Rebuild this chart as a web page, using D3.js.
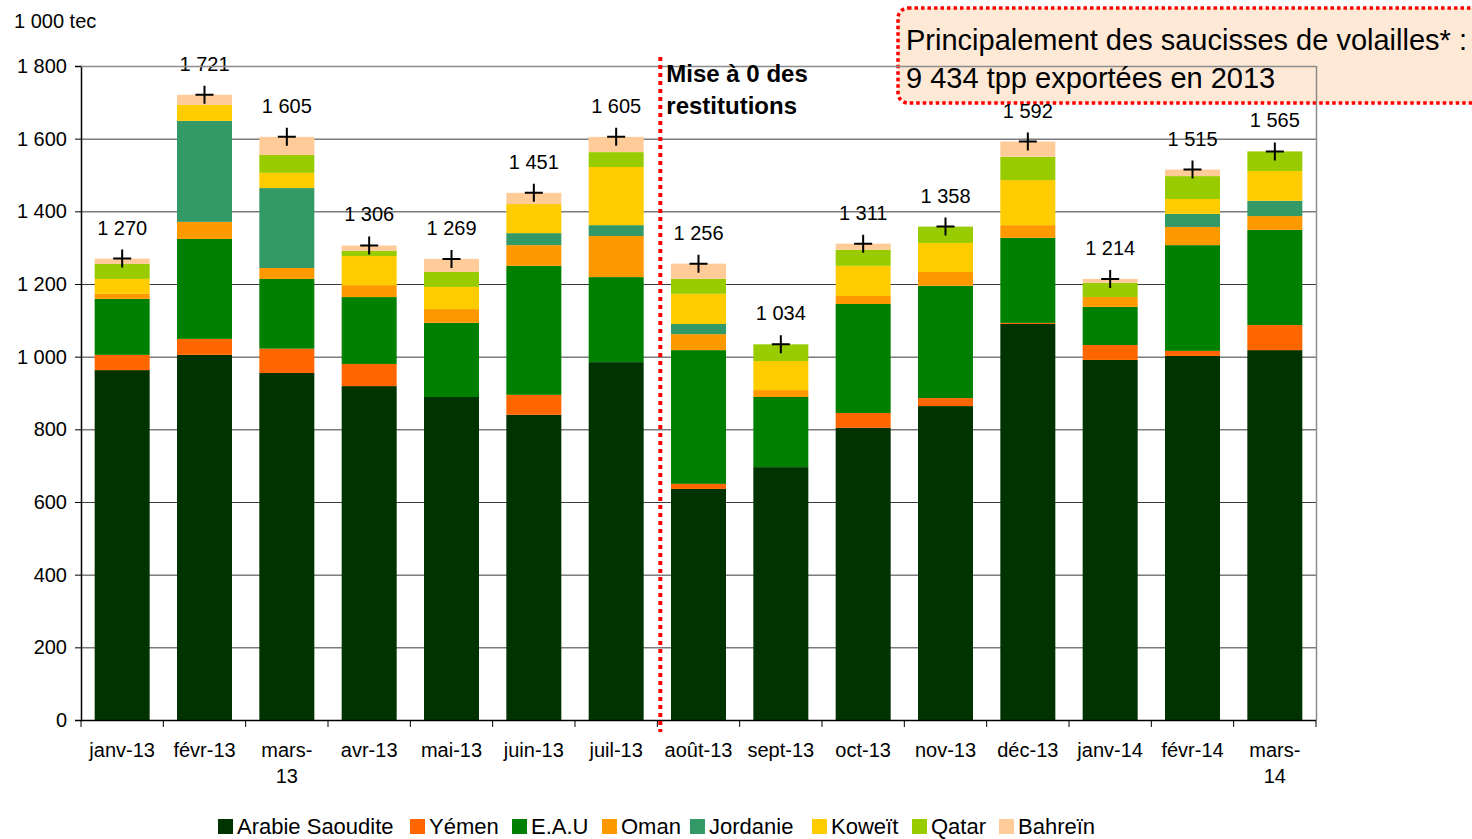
<!DOCTYPE html>
<html>
<head>
<meta charset="utf-8">
<script src="https://cdn.jsdelivr.net/npm/d3@7"></script>
<style>
  html, body { margin: 0; padding: 0; background: #fff; }
  svg { display: block; font-family: "Liberation Sans", Arial, sans-serif; }
</style>
</head>
<body>
<svg id="chart" width="1472" height="839"></svg>
<script>
// months, in tonnes (1 000 tec)
const months = ['janv-13', 'févr-13', 'mars-13', 'avr-13', 'mai-13', 'juin-13', 'juil-13',
  'août-13', 'sept-13', 'oct-13', 'nov-13', 'déc-13', 'janv-14', 'févr-14', 'mars-14'];
const monthLabels = ['janv-13', 'févr-13', 'mars-|13', 'avr-13', 'mai-13', 'juin-13', 'juil-13',
  'août-13', 'sept-13', 'oct-13', 'nov-13', 'déc-13', 'janv-14', 'févr-14', 'mars-|14'];

const countries = ['Arabie Saoudite', 'Yémen', 'E.A.U', 'Oman', 'Jordanie', 'Koweït', 'Qatar', 'Bahreïn'];
const colors = ['#003300', '#ff6600', '#008000', '#ff9900', '#339966', '#ffcc00', '#99cc00', '#ffcc99'];

const arabie   = [963, 1005, 955, 919, 889, 840, 985, 636, 696, 804, 864, 1090, 991, 1002, 1018];
const yemen    = [42, 44, 67, 61, 0, 55, 0, 14, 0, 41, 22, 3, 41, 14, 69];
const eau      = [154, 275, 192, 184, 204, 355, 234, 368, 193, 300, 309, 234, 105, 291, 262];
const oman     = [14, 47, 30, 33, 38, 57, 113, 44, 19, 22, 38, 35, 27, 50, 38];
const jordanie = [0, 278, 220, 0, 0, 33, 30, 28, 0, 0, 0, 0, 0, 36, 42];
const koweit   = [41, 44, 42, 80, 61, 80, 160, 83, 80, 83, 80, 124, 0, 41, 82];
const qatar    = [41, 0, 49, 14, 41, 0, 41, 41, 46, 44, 45, 64, 39, 63, 54];
const bahrein  = [15, 28, 50, 15, 36, 31, 42, 42, 0, 17, 0, 42, 11, 18, 0];

const yTicks = [0, 200, 400, 600, 800, 1000, 1200, 1400, 1600, 1800];

const series = [arabie, yemen, eau, oman, jordanie, koweit, qatar, bahrein];

// build rows for d3.stack
const rows = months.map((m, i) => {
  let r = {month: m};
  countries.forEach((c, k) => { r[c] = series[k][i]; });
  return r;
});
const totals = months.map((m, i) => d3.sum(series, s => s[i]));

const fr = d3.formatLocale({decimal: ',', thousands: '\u00a0', grouping: [3], currency: ['', ' €']});
const fmt = fr.format(',d');

const svg = d3.select('#chart');
const plotLeft = 81, plotRight = 1316, plotTop = 66, plotBottom = 720;

const x = d3.scaleBand().domain(months).range([plotLeft, plotRight]).paddingInner(0.332).paddingOuter(0.166);
const y = d3.scaleLinear().domain([0, 1800]).range([plotBottom, plotTop]);

// annotation box (behind the plot frame)
svg.append('rect')
  .attr('x', 898).attr('y', 8).attr('width', 600).attr('height', 95)
  .attr('rx', 10).attr('ry', 10)
  .attr('fill', '#fde9d6')
  .attr('stroke', '#ff0000').attr('stroke-width', 3.5).attr('stroke-dasharray', '3.5,3');

// gridlines
svg.append('g').selectAll('line').data(yTicks.filter(d => d > 0)).join('line')
  .attr('x1', plotLeft).attr('x2', plotRight)
  .attr('y1', d => y(d) + 0.5).attr('y2', d => y(d) + 0.5)
  .attr('stroke', '#3a3a3a').attr('stroke-width', 1);

// right frame
svg.append('line')
  .attr('x1', plotRight + 0.5).attr('x2', plotRight + 0.5).attr('y1', plotTop).attr('y2', plotBottom)
  .attr('stroke', '#8c8c8c').attr('stroke-width', 1.5);

// stacked bars
const stack = d3.stack().keys(countries)(rows);
svg.append('g').selectAll('g').data(stack).join('g')
  .attr('fill', (d, i) => colors[i])
  .selectAll('rect').data(d => d).join('rect')
    .attr('x', d => x(d.data.month))
    .attr('width', x.bandwidth())
    .attr('y', d => y(d[1]))
    .attr('height', d => y(d[0]) - y(d[1]));

// y axis
const yAxis = svg.append('g')
  .attr('transform', `translate(${plotLeft},0)`)
  .call(d3.axisLeft(y).tickValues(yTicks).tickSize(6).tickPadding(8).tickFormat(fmt));
yAxis.select('.domain').attr('stroke', '#000').attr('stroke-width', 1.5);
yAxis.selectAll('.tick line').attr('stroke', '#000');
yAxis.selectAll('text').attr('font-size', 20).attr('fill', '#000')
  .attr('font-family', '"Liberation Sans", Arial, sans-serif');

// x axis: ticks between categories
const xa = svg.append('g');
xa.append('line').attr('x1', plotLeft).attr('x2', plotRight).attr('y1', plotBottom + 0.5).attr('y2', plotBottom + 0.5)
  .attr('stroke', '#000').attr('stroke-width', 1.5);
xa.selectAll('line.tk').data(d3.range(months.length + 1)).join('line').attr('class', 'tk')
  .attr('x1', i => plotLeft + i * x.step()).attr('x2', i => plotLeft + i * x.step())
  .attr('y1', plotBottom).attr('y2', plotBottom + 7)
  .attr('stroke', '#000').attr('stroke-width', 1);
xa.selectAll('text').data(months).join('text')
  .attr('x', d => x(d) + x.bandwidth() / 2)
  .attr('y', plotBottom + 37)
  .attr('text-anchor', 'middle')
  .attr('font-size', 20)
  .each(function (d, i) {
    const parts = monthLabels[i].split('|');
    d3.select(this).selectAll('tspan').data(parts).join('tspan')
      .attr('x', x(d) + x.bandwidth() / 2)
      .attr('dy', (p, k) => k === 0 ? 0 : 26)
      .text(p => p);
  });

// totals: cross + label
const tg = svg.append('g');
tg.selectAll('path').data(months).join('path')
  .attr('d', (d, i) => {
    const cx = x(d) + x.bandwidth() / 2, cy = y(totals[i]);
    return `M${cx - 9},${cy}H${cx + 9}M${cx},${cy - 9}V${cy + 9}`;
  })
  .attr('stroke', '#000').attr('stroke-width', 2).attr('fill', 'none');
tg.selectAll('text').data(months).join('text')
  .attr('x', d => x(d) + x.bandwidth() / 2)
  .attr('y', (d, i) => y(totals[i]) - 24)
  .attr('text-anchor', 'middle')
  .attr('font-size', 20)
  .text((d, i) => fmt(totals[i]));

// top frame line over the annotation box
svg.append('line')
  .attr('x1', plotLeft).attr('x2', plotRight).attr('y1', plotTop + 0.5).attr('y2', plotTop + 0.5)
  .attr('stroke', '#8c8c8c').attr('stroke-width', 1.5);

// annotation text
const ann = svg.append('text').attr('font-size', 29).attr('fill', '#000');
ann.append('tspan').attr('x', 906).attr('y', 50).text('Principalement des saucisses de volailles* :');
ann.append('tspan').attr('x', 906).attr('y', 88).text('9 434 tpp exportées en 2013');

// red dotted separator between juil-13 and août-13
const sepX = plotLeft + 7 * x.step() + 3;
svg.append('line')
  .attr('x1', sepX).attr('x2', sepX).attr('y1', 57).attr('y2', 732)
  .attr('stroke', '#ff0000').attr('stroke-width', 4).attr('stroke-dasharray', '4,4');
const mise = svg.append('text').attr('font-size', 24).attr('font-weight', 'bold');
mise.append('tspan').attr('x', sepX + 6).attr('y', 82).text('Mise à 0 des');
mise.append('tspan').attr('x', sepX + 6).attr('y', 114).text('restitutions');

// unit label
svg.append('text').attr('x', 14).attr('y', 28).attr('font-size', 20).text('1 000 tec');

// legend
const legX = [218, 410, 512, 602, 690, 812, 912, 999];
const lg = svg.append('g').selectAll('g').data(countries).join('g')
  .attr('transform', (d, i) => `translate(${legX[i]},819)`);
lg.append('rect').attr('width', 15).attr('height', 15).attr('fill', (d, i) => colors[i]);
lg.append('text').attr('x', 19).attr('y', 15).attr('font-size', 22).text(d => d);
</script>
</body>
</html>
